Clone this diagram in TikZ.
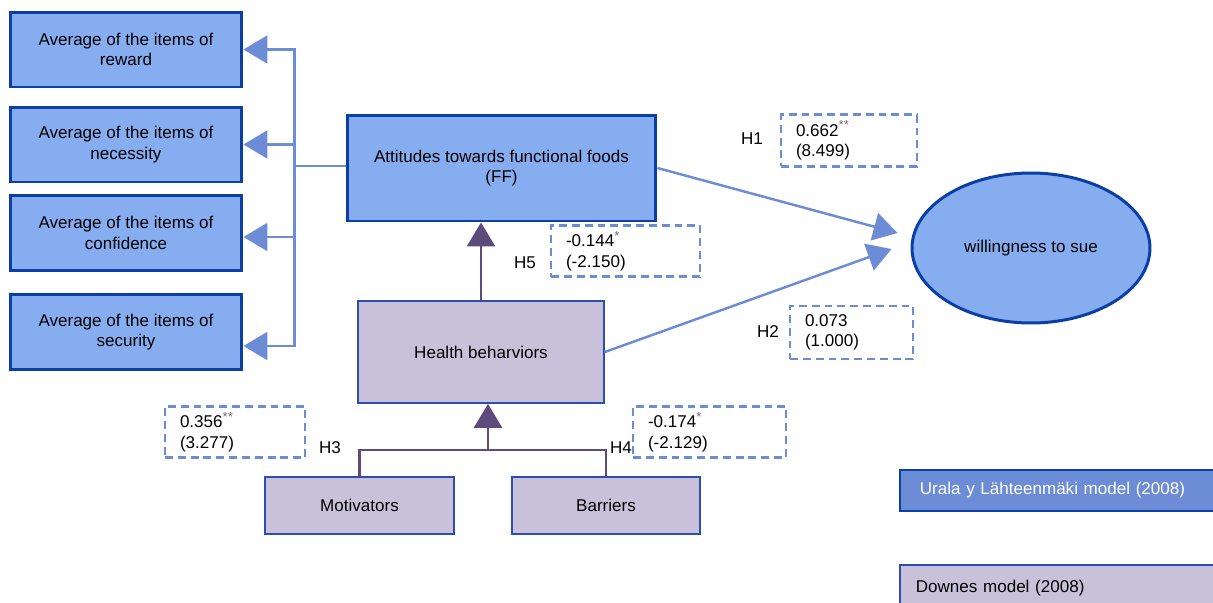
\documentclass[tikz,border=0pt]{standalone}
\usepackage{fontspec}
\setmainfont{Liberation Sans}
\usetikzlibrary{arrows.meta, shapes.geometric}

\definecolor{boxblue}{HTML}{86ADF0}
\definecolor{edgeblue}{HTML}{0B3FA5}
\definecolor{linkblue}{HTML}{6C8CD5}
\definecolor{thinblue}{HTML}{2A4FB0}
\definecolor{lilac}{HTML}{C9C1DA}
\definecolor{plum}{HTML}{5D4B7C}
\definecolor{stargray}{HTML}{6E6E6E}

\newcommand{\sig}[1]{\raisebox{0.38em}{\textcolor{stargray}{\fontsize{7.5}{7.5}\selectfont #1}}}

\begin{document}
\begin{tikzpicture}[
    x = 0.02cm, y = -0.02cm,
    font = \fontsize{9.7}{11.5}\selectfont,
    itembox/.style = {
      rectangle, draw = edgeblue, fill = boxblue, line width = 1.7pt,
      minimum width = 4.64cm, minimum height = 1.5cm, align = center, inner sep = 0pt
    },
    downbox/.style = {
      rectangle, draw = thinblue, fill = lilac, line width = 1pt,
      minimum height = 1.14cm, align = center, inner sep = 0pt
    },
    statbox/.style = {
      rectangle, draw = linkblue, dashed, line width = 1.5pt,
      dash pattern = on 4.5pt off 2.8pt, text width = #1, align = left,
      inner xsep = 0.3cm, inner ysep = 0pt, minimum height = 1.03cm
    },
    bluelink/.style = { draw = linkblue, line width = 1.4pt },
    bluearrow/.style = {
      draw = linkblue, line width = 1.4pt,
      -{Triangle[width = 0.56cm, length = 0.48cm, fill = linkblue]}
    },
    plumlink/.style = { draw = plum, line width = 1.5pt },
    plumarrow/.style = {
      draw = plum, line width = 1.5pt,
      -{Triangle[width = 0.56cm, length = 0.48cm, fill = plum]}
    },
    legendbox/.style = {
      rectangle, draw = #1, line width = 1pt, anchor = north west,
      minimum height = 0.82cm, text width = 6.2cm, align = left, inner xsep = 0.4cm
    }
  ]
  \path [use as bounding box, clip] (0,0) rectangle (1213,602);

  \node [itembox] (reward)     at (126,49.5)  {Average of the items of\\reward};
  \node [itembox] (necessity)  at (126,144.5) {Average of the items of\\necessity};
  \node [itembox] (confidence) at (126,233)   {Average of the items of\\confidence};
  \node [itembox] (security)   at (126,332)   {Average of the items of\\security};

  \node [itembox, minimum width = 6.18cm, minimum height = 2.12cm] (ff) at (501.5,168)
    {Attitudes towards functional foods\\(FF)};
  \node [ellipse, draw = edgeblue, fill = boxblue, line width = 1.7pt,
    minimum width = 4.76cm, minimum height = 3cm, inner sep = 0pt] (sue) at (1031,248)
    {willingness to sue};

  \node [downbox, minimum width = 4.92cm, minimum height = 2.04cm] (health) at (481,352)
    {Health beharviors};
  \node [downbox, minimum width = 3.78cm] (motiv) at (359.5,505.5) {Motivators};
  \node [downbox, minimum width = 3.76cm] (barr)  at (606,505.5)   {Barriers};

  \draw [bluelink] ([yshift = 0.04cm] ff.west) -- ++(-51,0) coordinate (bus);
  \draw [bluearrow] (bus) |- (reward.east);
  \draw [bluearrow] (bus) |- (necessity.east);
  \draw [bluearrow] (bus) |- ([yshift = -0.08cm] confidence.east);
  \draw [bluearrow] (bus) |- ([yshift = -0.28cm] security.east);

  \draw [bluearrow] (ff.east) -- ([shift = {(-13,-15)}] sue.west);
  \draw [bluearrow] (health.east) -- ([shift = {(-19,1)}] sue.west);

  \draw [plumarrow] (health.north) -- (health.north |- ff.south);
  \coordinate (join) at (488,450);
  \draw [plumlink] (motiv.north) |- (join) -| (barr.north);
  \draw [plumarrow] (join) -- (join |- health.south);

  \node [statbox = 2.12cm] (h1box) at (849,140.5) {0.662\sig{**}\\(8.499)};
  \node (h1lab) at (752,139) {H1};
  \node [statbox = 2.38cm] (h5box) at (625.5,251) {-0.144\sig{*}\\(-2.150)};
  \node (h5lab) at (525,263) {H5};
  \node [statbox = 1.86cm, minimum height = 1.06cm] (h2box) at (851.5,332.5)
    {0.073\\(1.000)};
  \node (h2lab) at (768,332) {H2};
  \node [statbox = 2.2cm] (h3box) at (235,432) {0.356\sig{**}\\(3.277)};
  \node (h3lab) at (330,448) {H3};
  \node [statbox = 2.46cm] (h4box) at (709.5,432) {-0.174\sig{*}\\(-2.129)};
  \node (h4lab) at (621,448) {H4};

  \node [legendbox = edgeblue, fill = linkblue, text = white] (urala) at (899,469)
    {Urala y Lähteenmäki model (2008)};
  \node [legendbox = thinblue, fill = lilac, inner xsep = 0.32cm,
    minimum height = 0.92cm] (downes) at (899,564)
    {Downes model (2008)};
\end{tikzpicture}
\end{document}
